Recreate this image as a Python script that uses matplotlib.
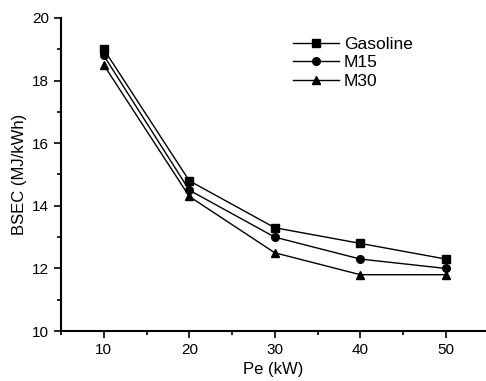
import matplotlib.pyplot as plt
from matplotlib.ticker import MultipleLocator

plt.rcParams['font.family'] = ['Liberation Sans', 'DejaVu Sans']

# Dados
pe = [10, 20, 30, 40, 50]
gasoline = [19.0, 14.8, 13.3, 12.8, 12.3]
m15 = [18.8, 14.5, 13.0, 12.3, 12.0]
m30 = [18.5, 14.3, 12.5, 11.8, 11.8]

fig = plt.figure(figsize=(4.86, 3.81), dpi=100)
ax = fig.add_axes([0.1255, 0.131, 0.8745, 0.822])

ax.plot(pe, gasoline, marker='s', color='black', lw=1, ms=5.5, label='Gasoline')
ax.plot(pe, m15, marker='o', color='black', lw=1, ms=5.5, label='M15')
ax.plot(pe, m30, marker='^', color='black', lw=1, ms=6, label='M30')

ax.set_xlim(5, 54.7)
ax.set_ylim(10, 20)
ax.xaxis.set_major_locator(MultipleLocator(10))
ax.xaxis.set_minor_locator(MultipleLocator(5))
ax.yaxis.set_major_locator(MultipleLocator(2))
ax.yaxis.set_minor_locator(MultipleLocator(1))
ax.spines['top'].set_visible(False)
ax.spines['right'].set_visible(False)
ax.spines['left'].set_linewidth(1.5)
ax.spines['bottom'].set_linewidth(1.5)
ax.tick_params(which='major', direction='out', length=5, width=1.2, labelsize=11)
ax.tick_params(which='minor', direction='out', length=3, width=1.2)

ax.set_xlabel('Pe (kW)', fontsize=12)
ax.set_ylabel('BSEC (MJ/kWh)', fontsize=12)

ax.legend(loc='upper left', bbox_to_anchor=(0.51, 0.99), frameon=False, fontsize=12.5,
          handlelength=2.6, handletextpad=0.3, labelspacing=0.2)

fig.savefig('out.png', dpi=100)
